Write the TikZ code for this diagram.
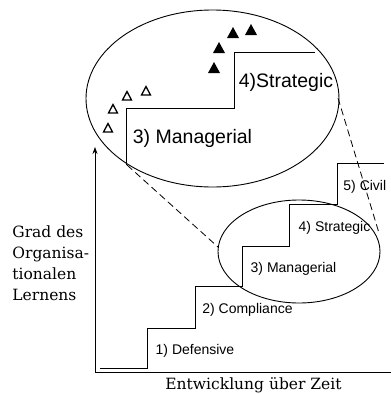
\documentclass[tikz,border=0pt]{standalone}
\usepackage{fontspec}
\usetikzlibrary{arrows.meta}
\setmainfont{DejaVu Serif}
\newfontfamily\stagefont{Liberation Sans}

\tikzset{every picture/.style={line width=0.9pt}}
\tikzset{
  stage/.style={font=\stagefont\fontsize{14}{16}\selectfont, inner sep=0pt},
  bigstage/.style={font=\stagefont\fontsize{19.5}{22}\selectfont, inner sep=0pt},
  axislabel/.style={font=\fontsize{15.5}{21}\selectfont, inner sep=0pt},
  zoomline/.style={dash pattern={on 7pt off 4pt}, line width=0.8pt},
}

\begin{document}
\begin{tikzpicture}[x=1pt,y=1pt,yscale=-1,xscale=1]
	\useasboundingbox (0,0) rectangle (391,394);

	%Axes
	\draw [-{Stealth[length=7pt,width=5pt]}, line width=0.8pt] (95,372) -- (95,147) ;
	\draw [line width=0.8pt] (95,372) -- (391,372) ;

	%Staircase
	\draw [line width=1pt] (100,368) -- (147,368) -- (147,328) -- (195,328) -- (195,286) -- (242,286) -- (242,246) -- (289,246) -- (289,204) -- (337,204) -- (337,163) -- (384,163) ;

	%Small ellipse
	\draw (299,251.5) ellipse (81 and 51.5) ;

	%Big ellipse
	\draw (212.5,98.5) ellipse (126.5 and 88.5) ;

	%Staircase in big ellipse
	\draw [line width=1pt] (126.7,165) -- (126.7,108) -- (234,108) -- (234,52) -- (315,52) ;

	%Zoom lines
	\draw [zoomline] (127,165) -- (218,247) ;
	\draw [zoomline] (338,98) -- (379,233) ;

	%Open triangles
	\foreach \cx/\cy in {108/128, 113/109, 127/96, 146/91}
		\draw [line width=1.3pt, line join=miter] (\cx-4.5,\cy+4) -- (\cx+4.5,\cy+4) -- (\cx,\cy-4.5) -- cycle ;
	%Filled triangles
	\foreach \cx/\cy in {214/68, 219/48, 233/33, 251/30}
		\fill (\cx-6,\cy+5) -- (\cx+6,\cy+5) -- (\cx,\cy-6) -- cycle ;

	% Text Node
	\node [stage] (defensive) at (195,351) {1) Defensive};
	% Text Node
	\node [stage] (compliance) at (247.5,310) {2) Compliance};
	% Text Node
	\node [stage] (managerial) at (293.5,269) {3) Managerial};
	% Text Node
	\node [stage] (strategic) at (334.5,228) {4) Strategic};
	% Text Node
	\node [stage, anchor=west] (civil) at (343,187) {5) Civil};

	% Text Node
	\node [bigstage] (bigmanagerial) at (192.5,138) {3) Managerial};
	% Text Node
	\node [bigstage] (bigstrategic) at (286,82) {4)Strategic};

	% Text Node
	\node [axislabel, align=left, anchor=north west] (ylabel) at (12,225) {Grad des\\Organisa-\\tionalen\\Lernens};
	% Text Node
	\node [axislabel] (xlabel) at (253.5,385) {Entwicklung über Zeit};

\end{tikzpicture}
\end{document}
